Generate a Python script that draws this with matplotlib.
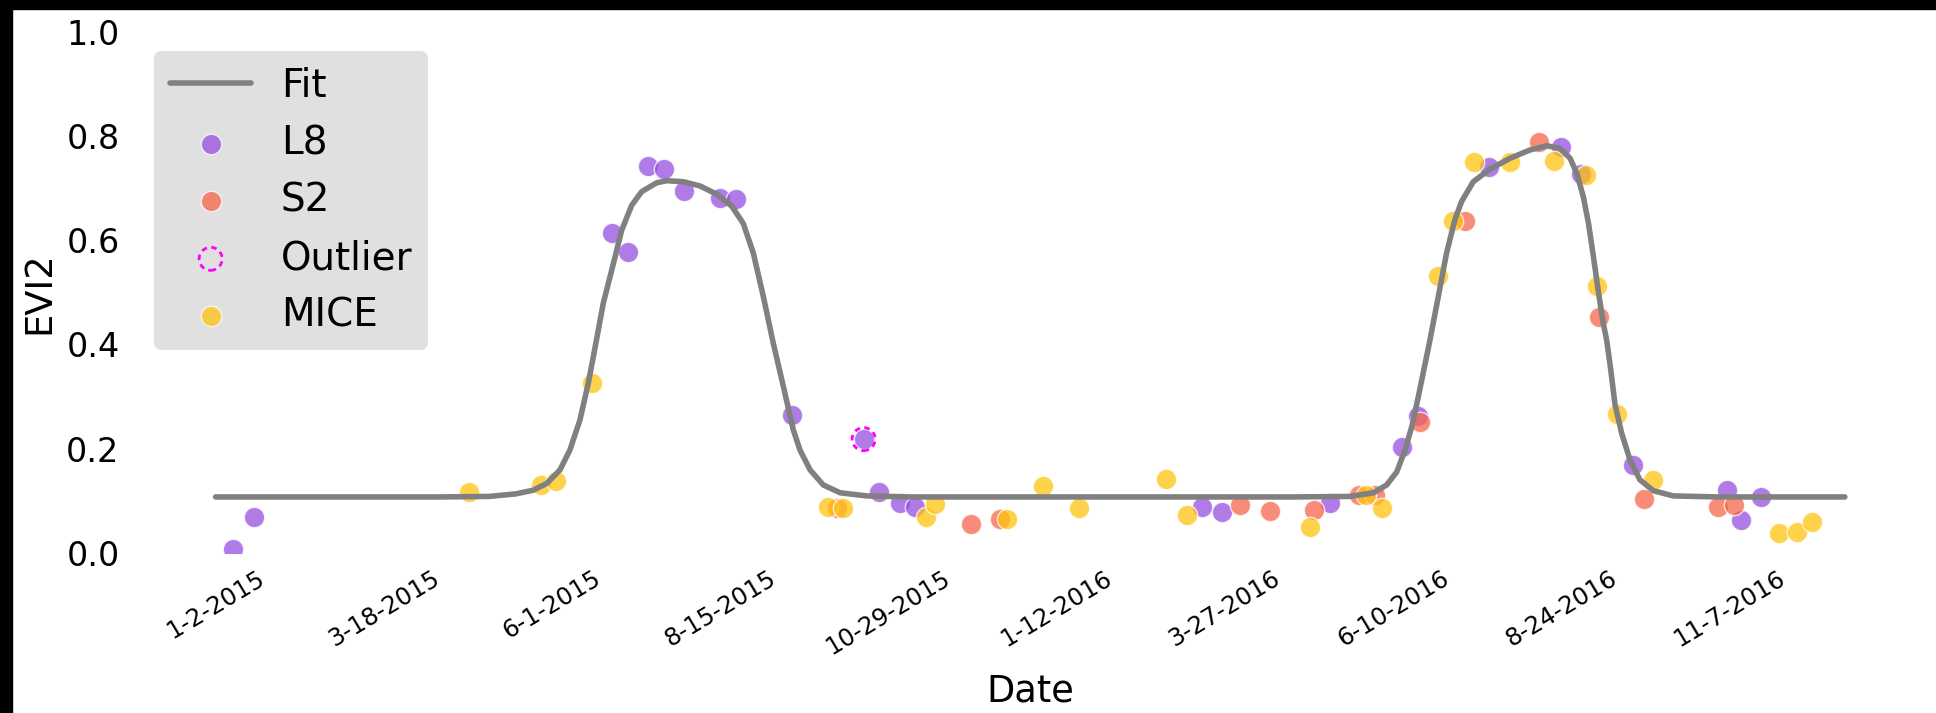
import matplotlib
matplotlib.use("Agg")
import matplotlib.pyplot as plt
import matplotlib.dates as mdates
from matplotlib.patches import Rectangle
import numpy as np
import pandas as pd

# ---------------- data ----------------
START = "2015-01-02"  # day 0 of the series

# fitted curve: days since START, EVI2
fit_day = [0, 60, 100, 122, 134, 141.7, 147.7, 153.6, 158, 162.5, 166.2, 169.5,
           172.9, 177.4, 181.1, 185.6, 190, 196.7, 201.2, 208.6, 216, 223.5,
           230.2, 235.3, 239.8, 244.3, 248.7, 253.2, 257.6, 260.6, 265.1, 271,
           278.5, 290.4, 310, 400, 480, 505.9, 516.3, 522.2, 526.7, 530.4,
           533.4, 536, 538.5, 541.5, 545.2, 548.9, 552.6, 555.6, 560.8, 568.2,
           577.2, 586.1, 593.6, 599.5, 604, 607, 609.9, 612.2, 614.4, 616.6,
           618.8, 620.3, 622, 624, 627, 630.7, 635.1, 641.1, 650, 670, 726.5]
fit_evi2 = [0.107, 0.107, 0.107, 0.108, 0.113, 0.120, 0.133, 0.159, 0.197, 0.255,
            0.325, 0.400, 0.479, 0.555, 0.619, 0.667, 0.693, 0.710, 0.714, 0.712,
            0.704, 0.688, 0.665, 0.632, 0.575, 0.491, 0.402, 0.319, 0.236, 0.197,
            0.159, 0.130, 0.115, 0.109, 0.107, 0.107, 0.107, 0.108, 0.115, 0.130,
            0.155, 0.197, 0.242, 0.293, 0.345, 0.408, 0.491, 0.575, 0.639, 0.674,
            0.712, 0.736, 0.757, 0.773, 0.781, 0.776, 0.757, 0.728, 0.683, 0.632,
            0.568, 0.501, 0.440, 0.408, 0.355, 0.285, 0.229, 0.178, 0.140, 0.119,
            0.109, 0.107, 0.107]

l8_day = [8, 17, 177, 184, 193, 200, 209, 225, 232, 257, 289, 296, 305, 312,
          440, 449, 497, 529, 536, 568, 600, 609, 632, 674, 680, 689]
l8_evi2 = [0.007, 0.069, 0.614, 0.578, 0.742, 0.737, 0.694, 0.681, 0.678, 0.264,
           0.218, 0.117, 0.095, 0.088, 0.087, 0.079, 0.095, 0.202, 0.262, 0.741,
           0.779, 0.727, 0.168, 0.120, 0.063, 0.106]

s2_day = [277, 337, 350, 457, 470, 490, 510, 517, 537, 557, 590, 617, 637, 670, 677]
s2_evi2 = [0.085, 0.056, 0.064, 0.091, 0.080, 0.082, 0.111, 0.111, 0.250, 0.637,
           0.789, 0.453, 0.104, 0.088, 0.092]

outlier_day = [289]
outlier_evi2 = [0.218]

mice_day = [113, 145, 152, 168, 273, 280, 317, 321, 353, 369, 385, 424, 433, 488,
            513, 520, 545, 552, 561, 577, 597, 611, 616, 625, 641, 697, 705, 712]
mice_evi2 = [0.117, 0.129, 0.138, 0.325, 0.088, 0.085, 0.068, 0.093, 0.064, 0.128,
             0.085, 0.142, 0.072, 0.049, 0.111, 0.085, 0.531, 0.637, 0.749, 0.749,
             0.752, 0.725, 0.512, 0.266, 0.140, 0.037, 0.039, 0.058]

tick_labels = ["1-2-2015", "3-18-2015", "6-1-2015", "8-15-2015", "10-29-2015",
               "1-12-2016", "3-27-2016", "6-10-2016", "8-24-2016", "11-7-2016"]
y_ticks = [0.0, 0.2, 0.4, 0.6, 0.8, 1.0]

# ---------------- helpers ----------------
start_ts = pd.Timestamp(START)


def to_num(days):
    d = start_ts + pd.to_timedelta(np.asarray(days, dtype=float), unit="D")
    return mdates.date2num(d.to_pydatetime())


# ---------------- figure ----------------
W, H = 1936, 713
fig = plt.figure(figsize=(W / 100, H / 100), dpi=100)
fig.patch.set_facecolor("white")
ax = fig.add_axes([134.8 / W, 160.3 / H, 1791.9 / W, 521.0 / H])
ax.set_facecolor("white")

ax.plot(to_num(fit_day), fit_evi2, color="#808080", lw=4.0,
        solid_capstyle="round", label="Fit", zorder=3)

ax.scatter(to_num(l8_day), l8_evi2, s=215, color="#964fde", alpha=0.75,
           edgecolors="white", linewidths=1.0, label="L8", zorder=1)
ax.scatter(to_num(s2_day), s2_evi2, s=215, color="#f8664b", alpha=0.75,
           edgecolors="white", linewidths=1.0, label="S2", zorder=1)
ax.scatter(to_num(outlier_day), outlier_evi2, s=275, facecolors="none",
           edgecolors="#ff00ff", linestyles=(0, (2.0, 1.6)), linewidths=2.0,
           label="Outlier", zorder=2)
ax.scatter(to_num(mice_day), mice_evi2, s=215, color="#ffc30f", alpha=0.75,
           edgecolors="white", linewidths=1.0, label="MICE", zorder=1)

for sp in ax.spines.values():
    sp.set_visible(False)

ax.set_ylim(0, 1)
ax.set_xlim(to_num([-36, 763]))
ax.set_yticks(y_ticks)
ax.set_yticklabels([f"{v:.1f}" for v in y_ticks], fontsize=24)
tick_pos = mdates.date2num(pd.to_datetime(tick_labels, format="%m-%d-%Y").to_pydatetime())
ax.set_xticks(tick_pos)
ax.set_xticklabels(tick_labels, rotation=31, ha="center", fontsize=17.5)
ax.tick_params(axis="both", length=0)
ax.tick_params(axis="y", pad=11)
ax.tick_params(axis="x", pad=10)
ax.grid(False)

ax.set_xlabel("Date", fontsize=26.5, labelpad=9)
ax.set_ylabel("EVI2", fontsize=26.5, labelpad=6)

leg = ax.legend(loc="upper left", fontsize=28, facecolor="#e0e0e0",
                edgecolor="none", framealpha=1.0, handlelength=2.1,
                borderaxespad=0.5, handletextpad=0.75, fancybox=True)

# black border strips present in the reference image
fig.patches.append(Rectangle((0, 1 - 9 / H), 1, 9 / H, transform=fig.transFigure,
                             color="black", zorder=10))
fig.patches.append(Rectangle((0, 0), 12 / W, 1, transform=fig.transFigure,
                             color="black", zorder=10))

fig.savefig("out.png", dpi=100)
